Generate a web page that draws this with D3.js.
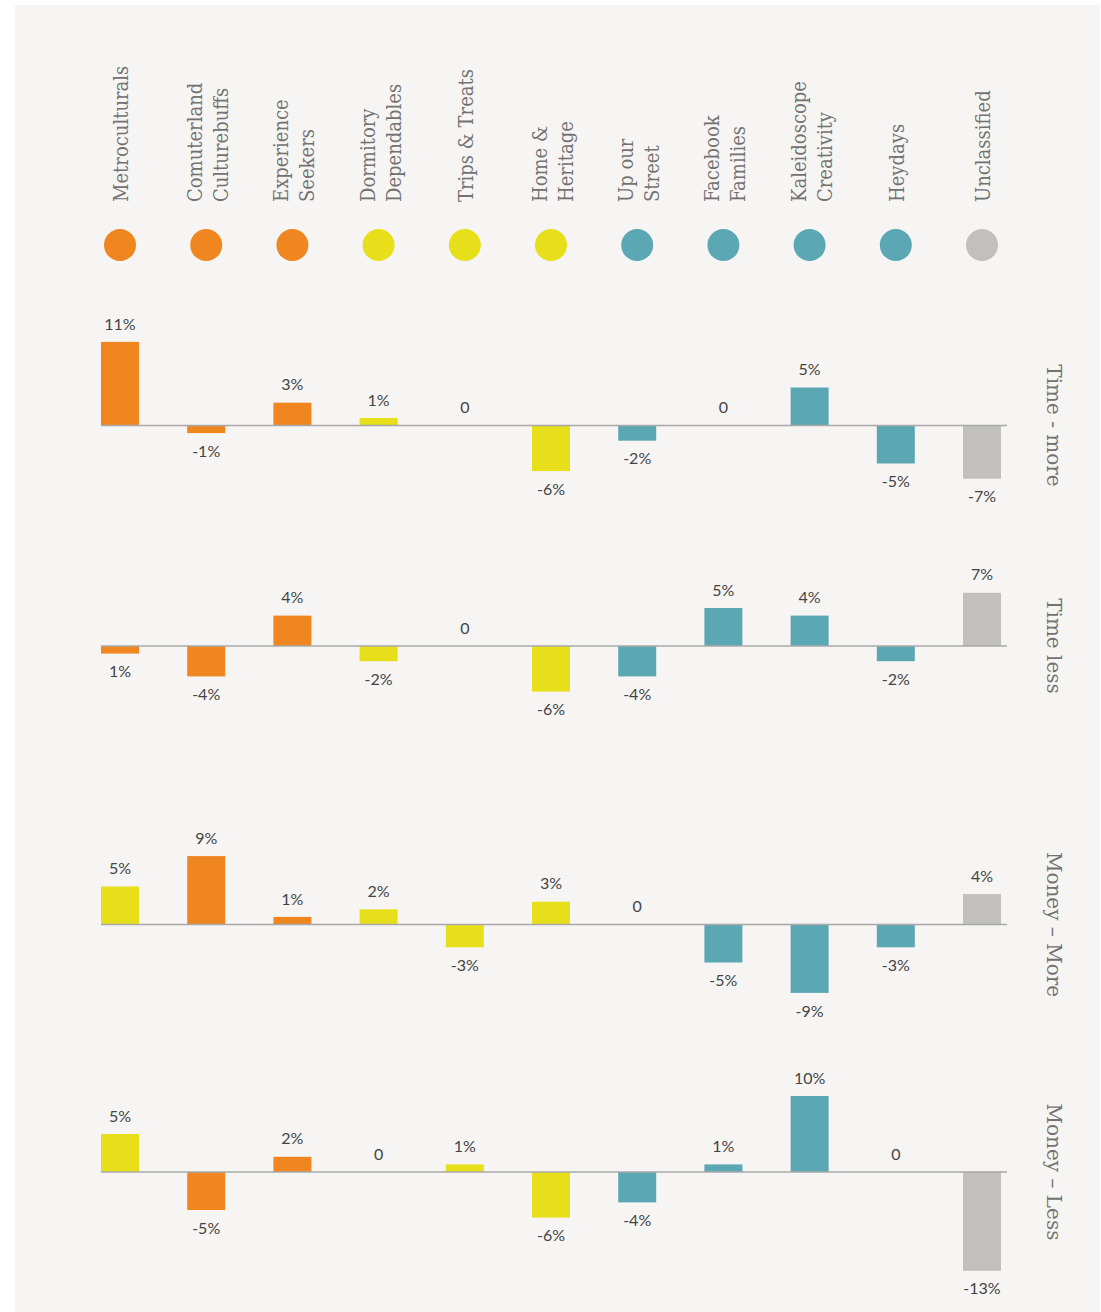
<!DOCTYPE html>
<html>
<head>
<meta charset="utf-8">
<script src="https://cdn.jsdelivr.net/npm/d3@7"></script>
<style>
  body { margin: 0; background: #ffffff; }
</style>
</head>
<body>
<div id="chart"></div>
<script>
// segments (header labels, split in lines)
var categories = ["Metroculturals", "Comuterland Culturebuffs", "Experience Seekers", "Dormitory Dependables",
  "Trips & Treats", "Home & Heritage", "Up our Street", "Facebook Families", "Kaleidoscope Creativity",
  "Heydays", "Unclassified"];
var headerLines = [["Metroculturals"], ["Comuterland", "Culturebuffs"], ["Experience", "Seekers"],
  ["Dormitory", "Dependables"], ["Trips & Treats"], ["Home &", "Heritage"], ["Up our", "Street"],
  ["Facebook", "Families"], ["Kaleidoscope", "Creativity"], ["Heydays"], ["Unclassified"]];
var dotGroups = ["orange", "orange", "orange", "yellow", "yellow", "yellow", "teal", "teal", "teal", "teal", "grey"];

var panelNames = ["Time - more", "Time less", "Money \u2013 More", "Money \u2013 Less"];

var timeMore = [11, -1, 3, 1, 0, -6, -2, 0, 5, -5, -7];
var timeMoreLabels = ["11%", "-1%", "3%", "1%", "0", "-6%", "-2%", "0", "5%", "-5%", "-7%"];
var timeMoreGroups = ["orange", "orange", "orange", "yellow", "yellow", "yellow", "teal", "teal", "teal", "teal", "grey"];

var timeLess = [-1, -4, 4, -2, 0, -6, -4, 5, 4, -2, 7];
var timeLessLabels = ["1%", "-4%", "4%", "-2%", "0", "-6%", "-4%", "5%", "4%", "-2%", "7%"];
var timeLessGroups = ["orange", "orange", "orange", "yellow", "yellow", "yellow", "teal", "teal", "teal", "teal", "grey"];

var moneyMore = [5, 9, 1, 2, -3, 3, 0, -5, -9, -3, 4];
var moneyMoreLabels = ["5%", "9%", "1%", "2%", "-3%", "3%", "0", "-5%", "-9%", "-3%", "4%"];
var moneyMoreGroups = ["yellow", "orange", "orange", "yellow", "yellow", "yellow", "teal", "teal", "teal", "teal", "grey"];

var moneyLess = [5, -5, 2, 0, 1, -6, -4, 1, 10, 0, -13];
var moneyLessLabels = ["5%", "-5%", "2%", "0", "1%", "-6%", "-4%", "1%", "10%", "0", "-13%"];
var moneyLessGroups = ["yellow", "orange", "orange", "yellow", "yellow", "yellow", "teal", "teal", "teal", "teal", "grey"];

var colors = { orange: "#f0861f", yellow: "#e6df1a", teal: "#5ba8b4", grey: "#c1c0bd" };

var panels = [
  { name: panelNames[0], values: timeMore, labels: timeMoreLabels, groups: timeMoreGroups, base: 425.5 },
  { name: panelNames[1], values: timeLess, labels: timeLessLabels, groups: timeLessGroups, base: 646 },
  { name: panelNames[2], values: moneyMore, labels: moneyMoreLabels, groups: moneyMoreGroups, base: 924.5 },
  { name: panelNames[3], values: moneyLess, labels: moneyLessLabels, groups: moneyLessGroups, base: 1172 }
];

var width = 1101, height = 1312;
var barWidth = 38;
var pxPerPct = 7.6;

var svg = d3.select("#chart").append("svg")
  .attr("width", width)
  .attr("height", height);

svg.append("rect")
  .attr("x", 15).attr("y", 5)
  .attr("width", 1085).attr("height", height)
  .attr("fill", "#f6f5f3");

var x = d3.scalePoint()
  .domain(categories)
  .range([120, 982]);

// header labels, rotated
var headers = svg.append("g").selectAll("text")
  .data(categories)
  .enter()
  .append("text")
    .attr("transform", function(d) { return "translate(" + x(d) + ",202) rotate(-90)"; })
    .attr("text-anchor", "start")
    .style("font-family", "'DejaVu Serif', serif")
    .style("font-stretch", "condensed")
    .style("font-size", "20px")
    .style("fill", "#727272");

headers.each(function(d, i) {
  var lines = headerLines[i];
  var t = d3.select(this);
  lines.forEach(function(line, j) {
    var dy;
    if (lines.length == 1) dy = 8;
    else dy = (j == 0) ? -4 : 26;
    t.append("tspan")
      .attr("x", 0)
      .attr("dy", dy)
      .text(line);
  });
});

// dots
svg.append("g").selectAll("circle")
  .data(categories)
  .enter()
  .append("circle")
    .attr("cx", function(d) { return x(d); })
    .attr("cy", 245)
    .attr("r", 16)
    .style("fill", function(d, i) { return colors[dotGroups[i]]; });

// panels
panels.forEach(function(p) {
  var y = d3.scaleLinear()
    .domain([-13, 13])
    .range([p.base + 13 * pxPerPct, p.base - 13 * pxPerPct]);

  var g = svg.append("g");

  g.selectAll("rect")
    .data(p.values)
    .enter()
    .append("rect")
      .attr("x", function(d, i) { return x(categories[i]) - barWidth / 2; })
      .attr("y", function(d) { return y(Math.max(0, d)); })
      .attr("width", barWidth)
      .attr("height", function(d) { return Math.abs(y(d) - y(0)); })
      .style("fill", function(d, i) { return colors[p.groups[i]]; });

  g.append("line")
    .attr("x1", 101).attr("x2", 1007)
    .attr("y1", y(0)).attr("y2", y(0))
    .style("stroke", "#a8a8a8")
    .style("stroke-width", 1.5);

  g.selectAll("text.val")
    .data(p.values)
    .enter()
    .append("text")
      .attr("class", "val")
      .attr("x", function(d, i) { return x(categories[i]); })
      .attr("y", function(d) {
        if (d > 0) return y(d) - 18;
        if (d < 0) return y(d) + 18;
        return y(0) - 18;
      })
      .attr("dy", "0.35em")
      .attr("text-anchor", "middle")
      .style("font-family", "Lato, 'Open Sans', sans-serif")
      .style("font-size", "16px")
      .style("fill", "#444")
      .text(function(d, i) { return p.labels[i]; });

  g.append("text")
    .attr("transform", "translate(1047," + y(0) + ") rotate(90)")
    .attr("text-anchor", "middle")
    .style("font-family", "'DejaVu Serif', serif")
    .style("font-size", "20px")
    .style("fill", "#727272")
    .text(p.name);
});
</script>
</body>
</html>
